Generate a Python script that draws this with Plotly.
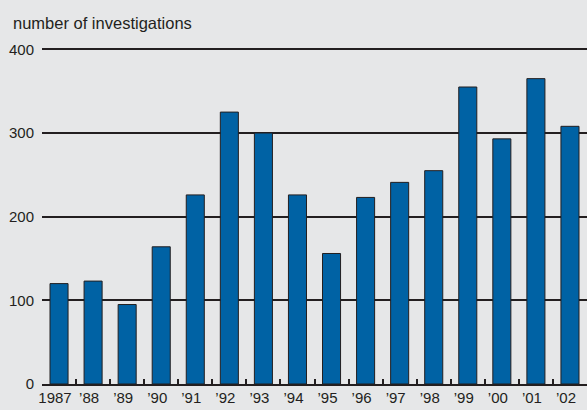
import plotly.graph_objects as go

years = ["1987", "’88", "’89", "’90", "’91", "’92", "’93", "’94", "’95", "’96",
         "’97", "’98", "’99", "’00", "’01", "’02"]
investigations = [120, 123, 95, 164, 226, 325, 300, 226, 156, 223,
                  241, 255, 355, 293, 365, 308]
y_ticks = [0, 100, 200, 300, 400]

dark = "#231f20"
bg = "#e6e7e8"
font_family = "Liberation Sans, Arial, Helvetica, sans-serif"

fig = go.Figure(go.Bar(
    x=years, y=investigations,
    marker=dict(color="#0062a4", line=dict(color=dark, width=1)),
    width=0.53,
))

fig.update_layout(
    width=587, height=410,
    margin=dict(l=42, r=0, t=45.7, b=26),
    paper_bgcolor=bg, plot_bgcolor=bg,
    font=dict(family=font_family, size=15, color=dark),
    showlegend=False,
    annotations=[dict(
        text="number of investigations", xref="paper", yref="paper",
        x=(11 - 42) / 545, y=1, xanchor="left", yanchor="bottom", yshift=12,
        showarrow=False, font=dict(size=16.5, color=dark, family=font_family),
    )],
)
fig.update_xaxes(
    type="category", range=[-0.5, 15.5],
    showline=True, linecolor=dark, linewidth=2,
    ticks="inside", tickson="boundaries", ticklen=5, tickwidth=1.5, tickcolor=dark,
    showgrid=False, tickangle=0, ticklabelshift=-4, ticklabelstandoff=-1,
    tickfont=dict(size=15, color=dark),
)
fig.update_yaxes(
    range=[0, 404], tickvals=y_ticks,
    showgrid=True, gridcolor=dark, gridwidth=1.6,
    zeroline=False, showline=False,
    ticks="outside", ticklen=0, ticklabelstandoff=4,
    tickfont=dict(size=15, color=dark),
)

fig.write_html("out.html", config={"displayModeBar": False},
               post_script="document.body.style.margin='0';")
